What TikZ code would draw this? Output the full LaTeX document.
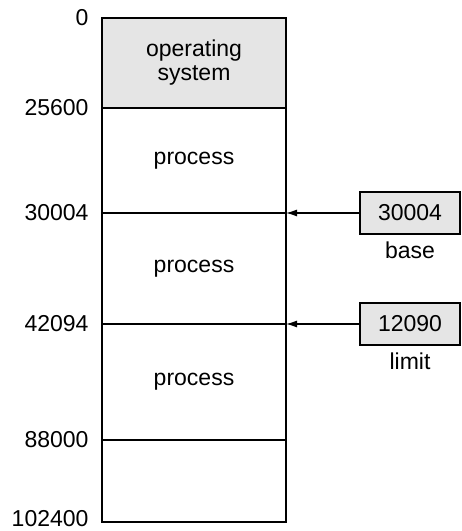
\documentclass[tikz,border=0pt]{standalone}
\usepackage{fontspec}
\setmainfont{Liberation Sans}
\usetikzlibrary{positioning,arrows.meta}
\begin{document}
\begin{tikzpicture}
	[x=1pt,y=-1pt,>={Latex[length=11pt,width=7pt]},
	txt/.style={font=\fontsize{23}{24}\selectfont},
	seg/.style={rectangle,draw,line width=1.2pt,minimum width=184pt,inner sep=0pt,outer sep=0pt,txt},
	addr/.style={font=\fontsize{23}{24}\selectfont},
	reg/.style={rectangle,draw,line width=1.2pt,minimum width=100pt,minimum height=42pt,fill=gray!20,txt}]
	\useasboundingbox (0,0) rectangle (462,531);
	% memory
	\node[seg,name=os,anchor=north west,minimum height=90pt,fill=gray!20,align=center] at (102,18) {operating\\system};
	\node[seg,name=p1,below=0pt of os,minimum height=105pt]{process};
	\node[seg,name=p2,below=0pt of p1,minimum height=111pt]{process};
	\node[seg,name=p3,below=0pt of p2,minimum height=116pt]{process};
	\node[seg,name=fr,below=0pt of p3,minimum height=82pt]{};
	% addresses
	\node[addr,name=a0,left=10pt of os.north west]{0};
	\node[addr,name=a1,left=10pt of os.south west]{25600};
	\node[addr,name=a2,left=10pt of p1.south west]{30004};
	\node[addr,name=a3,left=10pt of p2.south west]{42094};
	\node[addr,name=a4,left=10pt of p3.south west]{88000};
	\node[addr,name=a5,left=10pt of fr.south west,yshift=3pt]{102400};
	% registers
	\node[reg,name=base] at (410,213) {30004};
	\node[txt,name=bl,below=4pt of base]{base};
	\node[reg,name=limit] at (410,324) {12090};
	\node[txt,name=ll,below=4pt of limit]{limit};
	\draw[->,line width=1.2pt](base.west) -- (base.west -| os.east);
	\draw[->,line width=1.2pt](limit.west) -- (limit.west -| os.east);
\end{tikzpicture}
\end{document}
